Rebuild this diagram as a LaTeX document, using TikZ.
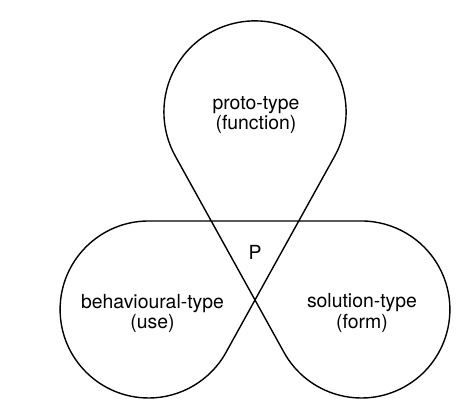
\documentclass[tikz,border=0pt]{standalone}
\usepackage{fontspec}
\setmainfont{TeX Gyre Heros}
\usetikzlibrary{calc,positioning}

\begin{document}
\begin{tikzpicture}[x=0.5pt, y=0.5pt, line width=0.7pt, line join=round,
    lobe label/.style={font=\fontsize{9.7}{8.2}\selectfont, align=center, inner sep=0pt}]
\useasboundingbox (-255,-99) rectangle (218,300);
\coordinate (cross) at (0,0);
\coordinate (tc) at (0,188);
\coordinate (lc) at (-106.4,-9.5);
\coordinate (rc) at (106.4,-9.5);

% one closed curve: top loop, two bottom lobes
\draw ($(lc)+(-29:88.5)$) -- (cross) -- ($(tc)+(-29:91.1)$)
    arc[start angle=-29, end angle=209, radius=91.1] -- (cross)
    -- ($(rc)+(209:88.5)$) arc[start angle=209, end angle=450, radius=88.5]
    -- ($(lc)+(90:88.5)$) arc[start angle=90, end angle=331, radius=88.5] -- cycle;

\node [lobe label] (proto) at ($(tc)+(1,-3)$) {proto-type\\(function)};
\node [lobe label] (behav) at ($(lc)+(3.9,-4)$) {behavioural-type\\(use)};
\node [lobe label] (sol) at ($(rc)+(0.6,-3.5)$) {solution-type\\(form)};
\node [lobe label, above=20pt of cross] (p) {P};
\end{tikzpicture}
\end{document}
